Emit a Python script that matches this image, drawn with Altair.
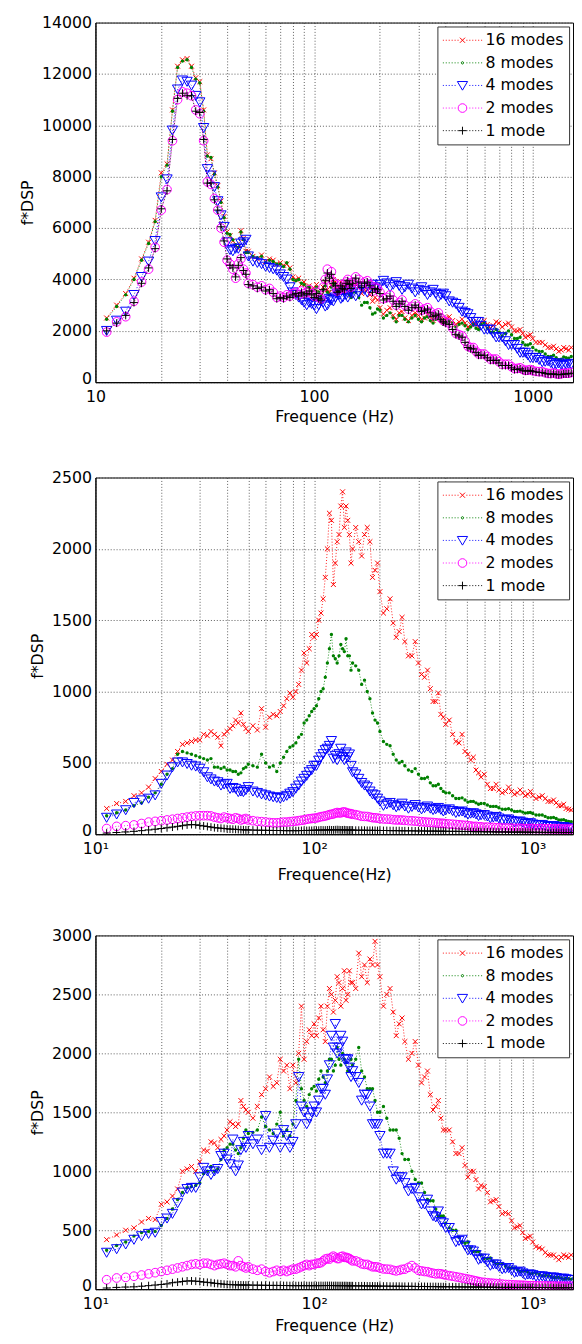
import altair as alt
import pandas as pd

FONT = "DejaVu Sans"
NAMES = ["16 modes", "8 modes", "4 modes", "2 modes", "1 mode"]
COLORS = ["#ff0000", "#008000", "#0000ff", "#ff00ff", "#000000"]

FREQ = [11.25, 12.5, 13.75, 15, 16.25, 17.5, 18.75, 20, 21.25, 22.5, 23.75, 25, 26.25, 27.5, 28.75, 30,
        31.25, 32.5, 33.75, 35, 36.25, 37.5, 38.75, 40, 41.25, 42.5, 43.75, 45, 46.25, 47.5, 48.75, 50,
        52.5, 55, 57.5, 60, 62.5, 65, 67.5, 70, 72.5, 75, 77.5, 80, 82.5, 85, 87.5, 90, 92.5, 95, 97.5, 100,
        105, 110, 115, 120, 125, 130, 135, 140, 145, 150,
        160, 170, 180, 190, 200, 215, 230, 245, 260, 280,
        300, 320, 340, 360, 380, 400, 430, 460, 490, 520,
        550, 580, 620, 660, 700, 750, 800, 850, 900, 950,
        1000, 1070, 1140, 1210, 1280, 1350, 1420, 1500]
# extra frequencies where the reference shows dense, scattered bands
FREQ_MID = [102.5, 107.5, 112.5, 117.5, 122.5, 127.5, 132.5, 137.5, 142.5, 147.5,
            155, 165, 175, 185, 195, 207.5, 222.5, 237.5, 252.5, 270, 290,
            310, 330, 350, 370, 390, 415, 445, 475, 505, 535, 565,
            600, 640, 680, 725, 775, 825, 875, 925, 975,
            1035, 1105, 1175, 1245, 1315, 1385, 1460]

# ---------------- panel 1 ----------------
P1_16 = [2500, 3000, 3450, 4050, 4800, 5450, 6300, 8150, 8500, 10600, 12300, 12550, 12600, 12300, 11850, 11700,
         10600, 8850, 8700, 8150, 7650, 7050, 6450, 5850, 5700, 5500, 5300, 5200, 5900, 5600, 5100, 5100,
         4900, 4800, 4950, 4700, 4800, 4750, 4600, 4650, 4550, 4600, 4450, 4100, 4000, 4050, 3800, 3900, 3700, 3750, 3600, 3650,
         3500, 3700, 3600, 3800, 3900, 3600, 3700, 3800, 3500, 3600,
         3700, 3600, 3400, 3300, 2900, 2800, 2600, 2700, 2500, 2600,
         2600, 2500, 2550, 2500, 2450, 2500, 2400, 2350, 2300, 2250,
         2250, 2300, 2250, 2200, 2300, 2250, 2150, 2000, 1900, 1800,
         1700, 1550, 1450, 1350, 1300, 1250, 1300, 1350]
P1_16B = [3800, 3400, 3900, 3500, 4000, 3500, 3900, 3550, 3850, 3400, 3800, 3450, 3600, 3150, 3200,
          2650, 2900, 2450, 2750, 2400, 2700, 2450, 2650, 2400, 2600, 2350, 2550, 2250, 2450, 2150, 2350, 2150,
          2400, 2100, 2350, 2150, 2300, 2000, 2050, 1750, 1850, 1550, 1550, 1350, 1400, 1200, 1350, 1250]
P1_8 = [2450, 2950, 3400, 4000, 4750, 5400, 6250, 8000, 8450, 10550, 12250, 12500, 12550, 12250, 11800, 11650,
        10550, 8800, 8750, 8100, 7600, 7000, 6400, 5800, 5750, 5550, 5350, 5250, 5850, 5550, 5050, 5050,
        4900, 4850, 4900, 4650, 4750, 4700, 4600, 4600, 4500, 4650, 4400, 4000, 3950, 4000, 3850, 3800, 3700, 3700, 3550, 3600,
        3500, 3600, 3500, 3700, 3800, 3500, 3600, 3700, 3400, 3500,
        3300, 3100, 2900, 2700, 2800, 2600, 2500, 2600, 2450, 2500,
        2450, 2500, 2400, 2450, 2400, 2350, 2300, 2250, 2200, 2150,
        2100, 2250, 2100, 1950, 1950, 1900, 1850, 1700, 1550, 1450,
        1350, 1200, 1100, 1000, 950, 900, 950, 1000]
P1_8B = [3700, 3350, 3750, 3400, 3850, 3450, 3750, 3450, 3750, 3300, 3500, 3000, 3100, 2650, 2850,
         2500, 2700, 2350, 2600, 2350, 2600, 2350, 2550, 2300, 2500, 2250, 2400, 2150, 2300, 2050, 2250, 2050,
         2300, 1950, 2050, 1800, 2000, 1700, 1750, 1450, 1500, 1250, 1200, 1000, 1050, 880, 980, 930]
P1_4 = [2000, 2400, 2750, 3400, 4100, 4700, 5500, 7200, 7900, 9800, 11400, 11750, 11700, 11550, 11150, 10900,
        9900, 8300, 8050, 7600, 7050, 6500, 6050, 5450, 5150, 5100, 5200, 5200, 5400, 5450, 5550, 4900,
        4700, 4650, 4600, 4500, 4450, 4400, 4350, 4200, 4100, 4000, 3700, 3500, 3400, 3300, 3200, 3100, 3000, 3100, 3050, 3000,
        3000, 3100, 3000, 3200, 3300, 3400, 3300, 3400, 3500, 3450,
        3500, 3600, 3650, 3700, 3800, 3850, 3800, 3750, 3700, 3650,
        3600, 3550, 3500, 3450, 3400, 3350, 3100, 2900, 2700, 2500,
        2350, 2200, 2050, 1900, 1750, 1600, 1450, 1300, 1150, 1050,
        950, 870, 800, 750, 700, 680, 680, 700]
P1_4B = [2850, 3150, 2950, 3250, 3150, 3450, 3250, 3500, 3300, 3600, 3350, 3700, 3500, 3800, 3650,
         3950, 3700, 3900, 3600, 3800, 3500, 3700, 3400, 3600, 3300, 3450, 3150, 3050, 2750, 2650, 2350, 2350,
         2050, 2050, 1750, 1750, 1450, 1450, 1150, 1150, 950, 950, 780, 820, 680, 740, 630, 720]
P1_2 = [1950, 2350, 2550, 3150, 3900, 4400, 5250, 6700, 7500, 9400, 11000, 11300, 11250, 11150, 10600, 10450,
        9400, 7800, 7700, 7150, 6700, 6000, 5450, 4750, 4600, 4400, 4050, 4600, 4800, 4400, 4250, 3850,
        3800, 3700, 3750, 3600, 3650, 3500, 3300, 3350, 3300, 3400, 3350, 3450, 3500, 3400, 3550, 3450, 3500, 3600, 3450, 3350,
        3300, 3700, 4400, 4300, 3800, 3600, 3700, 3900, 3850, 3900,
        4000, 3900, 3800, 3700, 3500, 3300, 3200, 3100, 3000, 2950,
        2950, 2850, 2750, 2650, 2500, 2350, 2100, 1850, 1600, 1350,
        1200, 1100, 1000, 900, 800, 700, 600, 540, 500, 470,
        450, 410, 370, 340, 330, 330, 350, 380]
P1_2B = [3500, 3250, 4000, 4100, 3900, 3550, 3800, 3650, 4000, 3700, 4100, 3750, 3950, 3550, 3650,
         3250, 3400, 3000, 3200, 2850, 3050, 2800, 2900, 2600, 2700, 2400, 2300, 1900, 1800, 1400, 1350, 1100,
         1100, 900, 900, 700, 700, 530, 560, 460, 490, 420, 410, 340, 360, 310, 350, 350]
P1_1 = [2000, 2300, 2600, 3100, 3850, 4450, 5200, 6750, 7450, 9450, 11050, 11250, 11150, 11150, 10550, 10500,
        9450, 7750, 7750, 7100, 6700, 6050, 5500, 4800, 4550, 4450, 4100, 4550, 4850, 4350, 4200, 3800,
        3750, 3650, 3700, 3550, 3600, 3450, 3250, 3300, 3250, 3350, 3300, 3400, 3450, 3350, 3500, 3400, 3450, 3550, 3400, 3300,
        3250, 3600, 4250, 4200, 3750, 3550, 3650, 3850, 3800, 3850,
        3900, 3850, 3750, 3650, 3450, 3250, 3150, 3050, 2950, 2900,
        2900, 2800, 2700, 2600, 2450, 2300, 2050, 1800, 1550, 1300,
        1150, 1050, 950, 850, 750, 650, 560, 500, 460, 440,
        420, 380, 340, 310, 300, 300, 320, 350]
P1_1B = [3450, 3200, 3950, 4050, 3850, 3500, 3750, 3600, 3950, 3650, 4050, 3700, 3900, 3500, 3600,
         3200, 3350, 2950, 3150, 2800, 3000, 2750, 2850, 2550, 2650, 2350, 2250, 1850, 1750, 1350, 1300, 1050,
         1050, 850, 850, 650, 650, 490, 520, 430, 460, 400, 380, 320, 330, 290, 320, 330]

# ---------------- panel 2 ----------------
P2_16 = [180, 215, 230, 270, 290, 330, 390, 440, 490, 520, 580, 630, 640, 650, 660, 660,
         700, 690, 720, 700, 680, 620, 700, 720, 740, 760, 800, 780, 850, 770, 740, 720,
         760, 730, 880, 750, 820, 840, 830, 860, 900, 950, 990, 960, 1000, 1050, 1150, 1270, 1200, 1300, 1400, 1380,
         1500, 1650, 2000, 2200, 1900, 2100, 2400, 2300, 2100, 2000,
         2050, 2100, 2050, 1850, 1700, 1580, 1480, 1420, 1350, 1250,
         1200, 1100, 1020, 930, 840, 770, 700, 640, 580, 520,
         450, 400, 350, 320, 310, 300, 300, 290, 290, 280,
         270, 260, 250, 230, 220, 200, 180, 170]
P2_16B = [1400, 1550, 1800, 2250, 1750, 2050, 2300, 2150, 2200, 1900, 2150, 1950, 2150, 1800, 1900,
          1550, 1650, 1380, 1520, 1250, 1350, 1120, 1150, 930, 990, 820, 800, 650, 700, 560, 540, 430,
          420, 320, 350, 290, 330, 280, 310, 270, 300, 250, 270, 230, 240, 200, 210, 175]
P2_8 = [130, 150, 170, 200, 220, 260, 290, 350, 420, 460, 560, 580, 570, 560, 550, 540,
        530, 520, 530, 470, 470, 460, 470, 450, 450, 440, 440, 420, 430, 460, 470, 490,
        480, 470, 560, 500, 470, 480, 440, 500, 540, 580, 610, 620, 640, 680, 700, 780, 800, 830, 860, 880,
        950, 1020, 1200, 1400, 1230, 1250, 1300, 1370, 1250, 1200,
        1150, 1080, 950, 800, 720, 630, 560, 500, 480, 440,
        420, 390, 360, 340, 320, 290, 270, 250, 240, 230,
        220, 215, 205, 195, 185, 175, 170, 160, 155, 150,
        145, 135, 125, 115, 110, 100, 95, 88]
P2_8B = [900, 1000, 1100, 1300, 1250, 1200, 1330, 1280, 1250, 1150, 1180, 1050, 1000, 850, 780,
         650, 620, 520, 510, 450, 460, 390, 400, 340, 350, 300, 290, 250, 255, 225, 230, 210,
         215, 195, 195, 175, 178, 160, 162, 148, 152, 135, 135, 115, 118, 100, 102, 90]
P2_4 = [116, 139, 169, 220, 238, 250, 273, 354, 412, 470, 504, 504, 493, 481, 475, 460,
        435, 400, 385, 370, 365, 342, 350, 354, 319, 325, 319, 296, 300, 296, 310, 331,
        300, 290, 280, 273, 265, 260, 255, 250, 260, 270, 285, 296, 320, 342, 370, 389, 410, 435, 450, 481,
        516, 562, 600, 654, 550, 562, 540, 574, 560, 435,
        389, 342, 300, 273, 230, 210, 204, 200, 195, 192,
        188, 184, 180, 176, 172, 169, 163, 157, 150, 145,
        140, 134, 125, 118, 111, 102, 94, 88, 82, 76,
        69, 64, 59, 55, 53, 50, 46, 42]
P2_4B = [480, 540, 590, 620, 530, 520, 600, 520, 540, 480, 420, 360, 330, 280, 250,
         200, 220, 190, 215, 180, 205, 175, 195, 170, 185, 160, 175, 150, 160, 138, 148, 128,
         135, 112, 122, 98, 104, 84, 90, 72, 78, 62, 66, 52, 58, 48, 51, 40]
P2_2 = [40, 55, 60, 65, 75, 85, 90, 95, 100, 105, 110, 115, 120, 125, 128, 130,
        130, 130, 128, 120, 115, 110, 120, 115, 110, 105, 115, 110, 100, 105, 110, 100,
        95, 90, 88, 85, 82, 80, 80, 82, 85, 85, 88, 90, 92, 95, 98, 100, 105, 108, 110, 112,
        118, 125, 132, 140, 148, 150, 155, 152, 145, 140,
        132, 125, 120, 115, 110, 106, 102, 100, 97, 94,
        90, 86, 83, 80, 77, 74, 70, 66, 62, 58,
        55, 52, 50, 48, 46, 44, 42, 41, 40, 40,
        40, 39, 38, 38, 37, 37, 36, 36]
P2_2B = [114, 123, 128, 137, 142, 152, 150, 156, 147, 144, 137, 126, 124, 116, 113,
         107, 105, 100, 99, 95, 92, 88, 84, 82, 78, 76, 72, 68, 64, 60, 54, 51,
         49, 47, 45, 43, 42, 40, 41, 39, 40, 39, 39, 38, 37, 37, 36, 36]
P2_1 = [8, 12, 16, 20, 25, 30, 35, 40, 45, 50, 55, 60, 65, 68, 66, 62,
        58, 54, 50, 46, 44, 42, 40, 38, 36, 35, 34, 33, 32, 31, 30, 30,
        29, 28, 28, 27, 27, 26, 26, 26, 25, 25, 25, 25, 25, 25, 26, 26, 26, 27, 27, 28,
        28, 29, 30, 30, 31, 31, 30, 30, 29, 29,
        28, 28, 27, 27, 26, 26, 25, 25, 24, 24,
        23, 23, 22, 22, 21, 21, 20, 20, 19, 19,
        18, 18, 17, 17, 16, 16, 15, 15, 15, 14,
        14, 14, 13, 13, 13, 12, 12, 12]
P2_1B = [28, 30, 29, 31, 30, 32, 30, 31, 29, 30, 28, 28, 27, 27, 26,
         26, 25, 25, 24, 24, 23, 23, 22, 22, 21, 21, 20, 20, 19, 19, 18, 18,
         17, 17, 16, 16, 15, 15, 15, 14, 14, 14, 13, 13, 13, 12, 12, 12]

# ---------------- panel 3 ----------------
P3_16 = [420, 460, 500, 520, 570, 600, 590, 720, 740, 790, 850, 1000, 1020, 1040, 1000, 1080,
         1180, 1170, 1250, 1240, 1200, 1270, 1300, 1350, 1420, 1400, 1380, 1400, 1600, 1550, 1520, 1500,
         1450, 1550, 1650, 1700, 1800, 1720, 1750, 1950, 1850, 1900, 1700, 1900, 1750, 2000, 2400, 1950, 2100, 2200, 2150, 2250,
         2300, 2200, 2400, 2500, 2450, 2600, 2550, 2450, 2700, 2600,
         2850, 2750, 2800, 2950, 2650, 2500, 2350, 2250, 2100, 2000,
         1900, 1800, 1650, 1550, 1450, 1350, 1250, 1150, 1050, 1000,
         930, 880, 820, 750, 700, 650, 580, 530, 480, 440,
         400, 350, 310, 290, 270, 270, 280, 290]
P3_16B = [2150, 2400, 2100, 2550, 2350, 2650, 2400, 2700, 2500, 2600, 2550, 2650, 2600, 2750, 2750,
          2400, 2550, 2150, 2300, 1950, 2100, 1750, 1850, 1520, 1600, 1350, 1350, 1150, 1200, 950, 1000, 850,
          870, 740, 760, 640, 640, 520, 540, 430, 450, 360, 340, 290, 290, 250, 290, 270]
P3_8 = [330, 370, 400, 450, 480, 490, 490, 540, 600, 680, 760, 820, 860, 870, 880, 900,
        980, 1000, 1040, 1000, 1020, 1100, 1180, 1200, 1230, 1230, 1180, 1150, 1200, 1280, 1350, 1320,
        1330, 1350, 1460, 1380, 1350, 1320, 1400, 1500, 1300, 1350, 1300, 1400, 1600, 1950, 1700, 1600, 1550, 1650, 1700, 1720,
        1780, 1800, 1850, 1950, 1900, 1950, 2000, 1920, 1850, 1900,
        2050, 1800, 1700, 1600, 1500, 1450, 1350, 1280, 1100, 1000,
        900, 820, 750, 680, 620, 560, 500, 440, 390, 350,
        320, 290, 260, 235, 215, 195, 180, 165, 155, 145,
        135, 125, 115, 108, 100, 95, 90, 85]
P3_8B = [1680, 1850, 1750, 1950, 1850, 2050, 1900, 1950, 1850, 1950, 1950, 1850, 1700, 1700, 1500,
         1550, 1350, 1350, 1150, 1100, 930, 900, 760, 750, 620, 620, 520, 500, 400, 400, 320, 320,
         260, 265, 215, 215, 180, 180, 150, 155, 130, 135, 112, 115, 98, 100, 86, 88]
P3_4 = [310, 340, 380, 420, 450, 470, 480, 570, 600, 640, 730, 820, 850, 860, 860, 950,
        1030, 1000, 970, 1000, 1020, 1130, 1150, 1100, 1060, 1270, 1000, 1050, 1180, 1250, 1200, 1300,
        1230, 1270, 1180, 1470, 1200, 1260, 1320, 1200, 1350, 1300, 1200, 1250, 1400, 1800, 1550, 1500, 1400, 1450, 1500, 1550,
        1600, 1700, 1780, 2150, 2250, 2050, 2100, 1950, 1880, 1850,
        1750, 1650, 1550, 1400, 1300, 1150, 1000, 950, 900, 850,
        780, 720, 660, 610, 570, 520, 460, 410, 370, 330,
        290, 260, 230, 210, 190, 175, 160, 145, 135, 125,
        120, 110, 105, 100, 95, 90, 85, 80]
P3_4B = [1500, 1700, 1650, 1900, 2050, 2000, 2150, 1950, 1950, 1800, 1800, 1600, 1650, 1400, 1400,
         1150, 1150, 930, 950, 830, 860, 720, 760, 620, 660, 560, 520, 400, 420, 330, 320, 250,
         260, 200, 210, 170, 180, 140, 150, 120, 125, 108, 110, 95, 100, 85, 90, 78]
P3_2 = [80, 95, 100, 110, 120, 130, 140, 150, 160, 170, 180, 190, 200, 210, 215, 210,
        220, 220, 210, 200, 210, 215, 220, 210, 200, 200, 190, 240, 200, 190, 180, 190,
        170, 160, 170, 150, 140, 150, 160, 150, 160, 150, 160, 170, 170, 180, 190, 200, 210, 200, 210, 210,
        220, 240, 260, 270, 270, 260, 280, 270, 260, 240,
        230, 210, 200, 190, 180, 170, 160, 160, 170, 200,
        160, 150, 140, 130, 130, 120, 110, 100, 90, 80,
        70, 60, 55, 50, 45, 40, 38, 35, 33, 30,
        30, 29, 28, 27, 26, 26, 25, 25]
P3_2B = [220, 225, 255, 255, 280, 260, 275, 270, 265, 250, 240, 215, 210, 190, 188,
         172, 168, 155, 168, 185, 180, 155, 148, 135, 132, 125, 115, 105, 95, 85, 75, 65,
         58, 52, 48, 43, 39, 36, 34, 32, 30, 29, 28, 27, 26, 26, 25, 25]
P3_1 = [10, 15, 18, 20, 25, 30, 35, 40, 45, 55, 60, 65, 70, 70, 68, 65,
        60, 58, 55, 50, 48, 45, 42, 40, 39, 38, 37, 36, 36, 35, 35, 35,
        34, 34, 33, 33, 32, 32, 32, 31, 31, 31, 30, 30, 30, 30, 30, 30, 30, 30, 30, 30,
        30, 30, 31, 31, 31, 30, 30, 30, 29, 29,
        28, 28, 27, 27, 26, 26, 25, 25, 24, 24,
        23, 23, 22, 22, 21, 21, 20, 20, 19, 19,
        18, 18, 17, 17, 16, 16, 16, 15, 15, 15,
        15, 14, 14, 14, 13, 13, 13, 13]
P3_1B = [30, 31, 31, 31, 30, 30, 30, 30, 29, 29, 28, 28, 27, 27, 26,
         26, 25, 25, 24, 24, 23, 23, 22, 22, 21, 21, 20, 20, 19, 19, 18, 18,
         17, 17, 16, 16, 16, 15, 15, 15, 15, 14, 14, 14, 13, 13, 13, 13]

GRID_X = [10, 20, 30, 40, 50, 60, 70, 80, 90, 100, 200, 300, 400, 500, 600, 700, 800, 900, 1000]
X_DOMAIN = [10, 1528]

# data markers (style)
MARKERS = [
    dict(shape="M-1,-1L1,1M-1,1L1,-1", size=25, filled=False, strokeWidth=1),
    dict(shape="circle", size=12, filled=True),
    dict(shape="M-1,-0.85L1,-0.85L0,0.9Z", size=110, filled=False, strokeWidth=1),
    dict(shape="circle", size=78, filled=False, strokeWidth=1),
    dict(shape="M-1,0L1,0M0,-1L0,1", size=64, filled=False, strokeWidth=1),
]


def dotted(skip):
    segs = []
    for i in range(14):
        x = -1.0 + i * 0.15
        if abs(x + 0.025) > skip:
            segs.append("M%.3f,0h0.05" % x)
    return "".join(segs)


LEG_MARK = [
    "M-0.13,-0.13L0.13,0.13M-0.13,0.13L0.13,-0.13",
    "M0.06,0A0.06,0.06 0 1,1 -0.06,0A0.06,0.06 0 1,1 0.06,0Z",
    "M-0.26,-0.2L0.26,-0.2L0,0.24Z",
    "M0.22,0A0.22,0.22 0 1,1 -0.22,0A0.22,0.22 0 1,1 0.22,0Z",
    "M-0.2,0L0.2,0M0,-0.2L0,0.2",
]
LEG_SKIP = [0.15, 0.1, 0.3, 0.26, 0.22]
LEG_PATHS = [dotted(s) + m for s, m in zip(LEG_SKIP, LEG_MARK)]


def make_legend():
    return alt.Legend(title=None, orient="top-right", offset=4, fillColor="white",
                      strokeColor="#333333", padding=5, rowPadding=5,
                      labelFont=FONT, labelFontSize=16, labelColor="black", labelOffset=3,
                      symbolSize=1600, symbolStrokeWidth=1, clipHeight=18, labelLimit=300)


def panel(series_vals, series_mid, ymax, ystep, decade_labels, xtitle, height, title_pad):
    xs = alt.Scale(type="log", domain=X_DOMAIN, nice=False)
    ys = alt.Scale(domain=[0, ymax], nice=False, zero=True)
    lab = ("datum.value == 10 ? '%s' : datum.value == 100 ? '%s' : datum.value == 1000 ? '%s' : ''"
           % tuple(decade_labels))
    xaxis = alt.Axis(values=GRID_X, labelExpr=lab, title=xtitle, grid=True, ticks=False,
                     labelPadding=7, titlePadding=title_pad, labelFlush=False, labelOverlap=False)
    yaxis = alt.Axis(values=list(range(0, ymax + 1, ystep)), format="d", title="f*DSP", grid=True,
                     ticks=False, labelPadding=4, titlePadding=6, labelFlush=False, labelOverlap=False,
                     labelOffset={"condition": {"test": "datum.value == 0", "value": -4}, "value": 0})
    layers = []
    for color, mk, vals, mids in zip(COLORS, MARKERS, series_vals, series_mid):
        df = pd.concat([pd.DataFrame({"f": FREQ, "v": vals}),
                        pd.DataFrame({"f": FREQ_MID, "v": mids})]).sort_values("f")
        enc = dict(x=alt.X("f:Q", scale=xs, axis=xaxis), y=alt.Y("v:Q", scale=ys, axis=yaxis))
        base = alt.Chart(df)
        layers.append(base.mark_line(color=color, strokeDash=[1, 2], strokeWidth=0.9, clip=True).encode(**enc))
        layers.append(base.mark_point(color=color, opacity=1, clip=True, **mk).encode(**enc))
    leg = (alt.Chart(pd.DataFrame({"series": NAMES}))
           .transform_filter("datum.series == 'none'")
           .mark_point(filled=False, size=1600, strokeWidth=1, opacity=1)
           .encode(color=alt.Color("series:N", scale=alt.Scale(domain=NAMES, range=COLORS), legend=make_legend()),
                   shape=alt.Shape("series:N", scale=alt.Scale(domain=NAMES, range=LEG_PATHS), legend=make_legend())))
    layers.append(leg)
    return alt.layer(*layers).properties(width=486, height=height)


p1 = panel([P1_16, P1_8, P1_4, P1_2, P1_1], [P1_16B, P1_8B, P1_4B, P1_2B, P1_1B],
           14000, 2000, ["10", "100", "1000"], "Frequence (Hz)", 366, 4)
p2 = panel([P2_16, P2_8, P2_4, P2_2, P2_1], [P2_16B, P2_8B, P2_4B, P2_2B, P2_1B],
           2500, 500, ["10\u00b9", "10\u00b2", "10\u00b3"], "Frequence(Hz)", 363, 10)
p3 = panel([P3_16, P3_8, P3_4, P3_2, P3_1], [P3_16B, P3_8B, P3_4B, P3_2B, P3_1B],
           3000, 500, ["10\u00b9", "10\u00b2", "10\u00b3"], "Frequence (Hz)", 360, 6)

chart = (alt.vconcat(p1, p2, p3, spacing=44)
         .resolve_scale(color="independent", shape="independent")
         .properties(padding={"left": 11, "top": -6, "right": 0, "bottom": 0}, background="white")
         .configure_axis(labelFont=FONT, labelFontSize=16, labelColor="black",
                         titleFont=FONT, titleFontSize=16, titleFontWeight="normal", titleColor="black",
                         gridColor="#333333", gridDash=[1, 2], gridWidth=1, gridOpacity=0.8,
                         domainColor="black", domainWidth=1)
         .configure_view(stroke="black", strokeWidth=1))

chart.save("out.html", embed_options={"renderer": "svg", "actions": False})
